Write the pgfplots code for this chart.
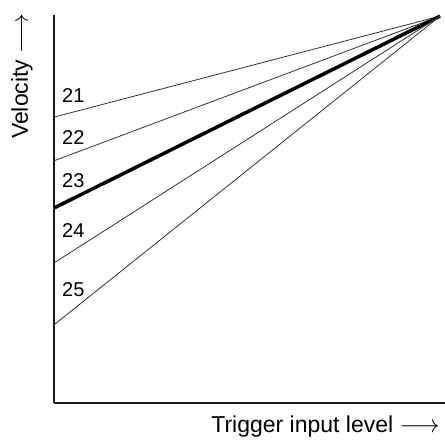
\documentclass[border=0pt]{standalone}
\usepackage{fontspec}
\setmainfont{Liberation Sans}
\usepackage{pgfplots}
\pgfplotsset{compat=1.18}
\begin{document}
\begin{tikzpicture}
\path[use as bounding box] (-54pt,-40pt) rectangle (391pt,403pt);
\begin{axis}[
  at={(0,0)}, anchor=origin,
  scale only axis, width=391pt, height=388pt,
  xmin=0, xmax=1.013, ymin=0, ymax=1.003,
  axis lines=left,
  axis line style={-, line width=2.6pt, color=black!90},
  xtick=\empty, ytick=\empty,
  clip=false,
]
\addplot[black!80, line width=0.8pt, mark=none] coordinates {(0,0.739) (1,1)};
\addplot[black!80, line width=0.8pt, mark=none] coordinates {(0,0.626) (1,1)};
\addplot[black, line width=3.5pt, mark=none] coordinates {(0,0.504) (1,1)};
\addplot[black!80, line width=0.8pt, mark=none] coordinates {(0,0.362) (1,1)};
\addplot[black!80, line width=0.8pt, mark=none] coordinates {(0,0.202) (1,1)};
\node[anchor=base west, inner sep=0pt, font=\fontsize{20}{24}\selectfont] at (axis cs:0.0207,0.778) {21};
\node[anchor=base west, inner sep=0pt, font=\fontsize{20}{24}\selectfont] at (axis cs:0.0207,0.667) {22};
\node[anchor=base west, inner sep=0pt, font=\fontsize{20}{24}\selectfont] at (axis cs:0.0207,0.556) {23};
\node[anchor=base west, inner sep=0pt, font=\fontsize{20}{24}\selectfont] at (axis cs:0.0207,0.427) {24};
\node[anchor=base west, inner sep=0pt, font=\fontsize{20}{24}\selectfont] at (axis cs:0.0207,0.274) {25};
\node[anchor=base east, inner sep=0pt, font=\fontsize{23}{26}\selectfont] at ([xshift=-5pt, yshift=-30pt]rel axis cs:1,0) {Trigger input level $\longrightarrow$};
\node[rotate=90, anchor=base east, inner sep=0pt, font=\fontsize{23}{26}\selectfont] at ([xshift=-26pt, yshift=2pt]rel axis cs:0,1) {Velocity $\longrightarrow$};
\end{axis}
\end{tikzpicture}
\end{document}
